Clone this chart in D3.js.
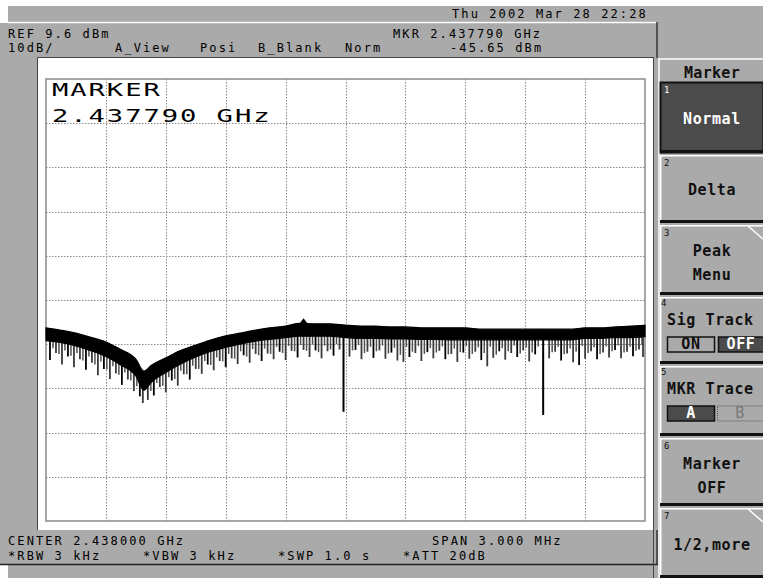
<!DOCTYPE html>
<html><head><meta charset="utf-8">
<script src="https://cdn.jsdelivr.net/npm/d3@7"></script>
<style>
html,body{margin:0;padding:0;background:#fff;}
svg{display:block;}
text{font-family:"DejaVu Sans Mono","Liberation Mono",monospace;}
</style></head><body>
<svg id="c" width="763" height="578"></svg>
<script>
// ---------- DATA ----------
const refLevel = 9.6;          // dBm at top of graticule
const dbPerDiv = 10;
const spanMHz = 3.0;           // centred on 2.438000 GHz, offsets in MHz
const traceFreq = [-1.50,-1.43,-1.35,-1.28,-1.20,-1.13,-1.05,-1.01,-0.97,-0.90,-0.83,-0.75,-0.68,-0.60,-0.53,-0.45,-0.38,-0.30,-0.23,-0.15,-0.08,0.00,0.08,0.15,0.23,0.30,0.38,0.45,0.53,0.60,0.68,0.75,0.83,0.90,0.98,1.05,1.13,1.20,1.28,1.35,1.43,1.50];
const traceTop = [-46.7,-47.2,-47.9,-48.8,-49.9,-51.5,-53.8,-56.5,-55.1,-53.5,-51.9,-50.6,-49.5,-48.5,-47.9,-47.2,-46.7,-46.3,-45.7,-45.8,-45.8,-46.1,-46.3,-46.3,-46.5,-46.5,-46.7,-46.7,-46.7,-46.7,-47.0,-47.0,-47.0,-47.0,-47.0,-47.0,-47.0,-46.7,-46.7,-46.5,-46.3,-46.1];
const traceBottom = [-49.6,-50.0,-50.8,-51.8,-53.2,-55.0,-57.6,-60.8,-58.9,-56.8,-55.0,-53.3,-52.1,-51.1,-50.4,-49.7,-49.3,-48.9,-48.6,-48.6,-48.6,-48.9,-49.1,-49.1,-49.2,-49.2,-49.3,-49.3,-49.4,-49.4,-49.4,-49.4,-49.4,-49.4,-49.4,-49.4,-49.4,-49.1,-49.1,-48.9,-48.9,-48.7];
const spikeFreq = [-1.48,-1.45,-1.42,-1.39,-1.36,-1.33,-1.30,-1.27,-1.24,-1.21,-1.18,-1.15,-1.12,-1.09,-1.06,-1.03,-1.015,-0.99,-0.96,-0.93,-0.90,-0.87,-0.84,-0.81,-0.78,-0.75,-0.72,-0.69,-0.66,-0.63,-0.60,-0.57,-0.54,-0.51,-0.48,-0.45,-0.42,-0.39,-0.36,-0.33,-0.30,-0.27,-0.24,-0.21,-0.18,-0.15,-0.12,-0.09,-0.06,-0.03,0.02,0.05,0.08,0.11,0.14,0.17,0.20,0.23,0.26,0.29,0.32,0.35,0.38,0.41,0.44,0.47,0.50,0.53,0.56,0.59,0.62,0.65,0.68,0.71,0.74,0.77,0.80,0.83,0.86,0.89,0.92,0.95,1.02,1.05,1.08,1.11,1.14,1.17,1.20,1.23,1.26,1.29,1.32,1.35,1.38,1.41,1.44,1.47,1.49];
const spikeLevel = [-54.0,-52.4,-55.0,-53.2,-55.6,-53.8,-56.2,-54.6,-57.4,-56.0,-58.3,-57.0,-59.6,-58.4,-61.0,-62.2,-63.7,-63.0,-62.0,-60.1,-61.3,-58.6,-59.8,-57.2,-58.4,-56.0,-57.1,-55.0,-56.3,-54.2,-55.6,-53.6,-54.9,-52.9,-54.6,-52.6,-54.2,-52.5,-53.8,-52.1,-54.0,-51.9,-53.4,-51.7,-53.3,-51.8,-53.6,-52.0,-53.0,-51.6,-53.2,-51.7,-53.8,-52.1,-53.5,-51.8,-53.7,-52.3,-54.1,-54.4,-53.3,-52.4,-54.2,-52.2,-53.6,-51.9,-53.8,-52.6,-54.4,-52.3,-53.7,-52.1,-54.0,-55.4,-53.5,-52.0,-53.9,-52.4,-53.3,-51.8,-54.3,-52.7,-53.6,-52.1,-54.1,-52.5,-54.5,-55.1,-53.7,-52.0,-53.8,-52.3,-53.4,-51.7,-53.6,-52.1,-53.1,-51.6,-53.3];
const fineSpikes = [[-1.465,-51.3],[-1.435,-52.6],[-1.405,-51.8],[-1.375,-53.0],[-1.345,-52.4],[-1.315,-54.1],[-1.285,-53.2],[-1.255,-55.0],[-1.225,-54.3],[-1.195,-56.1],[-1.165,-55.4],[-1.135,-57.3],[-1.105,-56.8],[-1.075,-58.6],[-1.045,-59.9],[-0.975,-61.0],[-0.945,-59.2],[-0.915,-59.8],[-0.885,-57.9],[-0.855,-58.3],[-0.825,-56.4],[-0.795,-57.2],[-0.765,-55.3],[-0.735,-56.0],[-0.705,-54.2],[-0.675,-55.1],[-0.645,-53.4],[-0.615,-54.3],[-0.585,-52.6],[-0.555,-53.7],[-0.525,-52.0],[-0.495,-53.2],[-0.465,-51.5],[-0.435,-52.9],[-0.405,-51.4],[-0.375,-52.6],[-0.345,-51.0],[-0.315,-52.4],[-0.285,-50.8],[-0.255,-52.0],[-0.225,-50.6],[-0.195,-51.9],[-0.165,-50.5],[-0.135,-52.2],[-0.105,-50.7],[-0.075,-51.6],[-0.045,-50.4],[0.035,-51.8],[0.065,-50.6],[0.095,-52.4],[0.125,-51.0],[0.155,-52.0],[0.185,-50.7],[0.215,-52.5],[0.245,-51.2],[0.275,-52.8],[0.305,-51.0],[0.335,-52.1],[0.365,-50.8],[0.395,-52.6],[0.425,-51.3],[0.455,-52.3],[0.485,-50.9],[0.515,-52.7],[0.545,-51.4],[0.575,-52.2],[0.605,-50.8],[0.635,-52.6],[0.665,-51.1],[0.695,-52.4],[0.725,-51.0],[0.755,-52.8],[0.785,-51.3],[0.815,-52.0],[0.845,-50.7],[0.875,-52.5],[0.905,-51.2],[0.935,-52.3],[0.965,-50.9],[1.035,-52.2],[1.065,-51.0],[1.095,-52.7],[1.125,-51.4],[1.155,-52.1],[1.185,-50.8],[1.215,-52.4],[1.245,-51.1],[1.275,-52.6],[1.305,-50.9],[1.335,-52.0],[1.365,-50.7],[1.395,-52.3],[1.425,-51.0],[1.455,-51.9],[1.485,-50.6]];
const notchFreq = [-0.01, 0.99];
const notchLevel = [-65.7, -66.4];
const markerFreq = -0.21;      // 2.437790 GHz
const markerLevel = -45.65;

// ---------- TEXT ----------
const statusLine = "Thu 2002 Mar 28 22:28";
const headerLeft = ["REF 9.6 dBm", "10dB/"];
const headerModes = ["A_View", "Posi", "B_Blank", "Norm"];
const headerMarker = ["MKR 2.437790 GHz", "-45.65 dBm"];
const footerTop = ["CENTER 2.438000 GHz", "SPAN 3.000 MHz"];
const footerBottom = ["*RBW 3 kHz", "*VBW 3 kHz", "*SWP 1.0 s", "*ATT 20dB"];
const markerReadout = ["MARKER", "2.437790 GHz"];
const softkeyTitle = "Marker";
const softkeyLabels = [["Normal"], ["Delta"], ["Peak", "Menu"], ["Sig Track"], ["MKR Trace"], ["Marker", "OFF"], ["1/2,more"]];
const toggleLabels = [["ON", "OFF"], ["A", "B"]];

// ---------- DRAW ----------
const svg = d3.select("#c");
const G = "#aaaaaa";
svg.append("rect").attr("width", 763).attr("height", 578).attr("fill", "#fff");
svg.append("rect").attr("x", 8).attr("y", 6).attr("width", 755).attr("height", 572).attr("fill", G);
svg.append("rect").attr("x", 0).attr("y", 23).attr("width", 8).attr("height", 542).attr("fill", G);
svg.append("line").attr("x1", 8).attr("x2", 657).attr("y1", 22.5).attr("y2", 22.5).attr("stroke", "#fff").attr("stroke-width", 1.5);
svg.append("line").attr("x1", 657).attr("x2", 657).attr("y1", 22).attr("y2", 58).attr("stroke", "#333").attr("stroke-width", 1.5);
svg.append("line").attr("x1", 0).attr("x2", 658).attr("y1", 564.5).attr("y2", 564.5).attr("stroke", "#222").attr("stroke-width", 1.5);
svg.append("line").attr("x1", 657).attr("x2", 657).attr("y1", 530).attr("y2", 565).attr("stroke", "#333").attr("stroke-width", 1.5);

// plot frame
svg.append("rect").attr("x", 38).attr("y", 57).attr("width", 615).attr("height", 473).attr("fill", "#fff");
svg.append("path").attr("d", "M37.5,530V57.5H653.5V530").attr("fill", "none").attr("stroke", "#444").attr("stroke-width", 1);

const x = d3.scaleLinear().domain([-spanMHz / 2, spanMHz / 2]).range([46, 645]);
const y = d3.scaleLinear().domain([refLevel - 10 * dbPerDiv, refLevel]).range([521, 79]);

const grid = svg.append("g");
const xDivs = d3.range(1, 10).map(i => -spanMHz / 2 + i * spanMHz / 10);
const yDivs = d3.range(1, 10).map(i => refLevel - i * dbPerDiv);
grid.selectAll("line.v").data(xDivs).join("line").attr("class", "v")
  .attr("x1", d => Math.round(x(d)) + 0.5).attr("x2", d => Math.round(x(d)) + 0.5).attr("y1", 79).attr("y2", 521)
  .attr("stroke", "#8a8a8a").attr("stroke-dasharray", "1.5,1.5");
grid.selectAll("line.h").data(yDivs).join("line").attr("class", "h")
  .attr("y1", d => Math.round(y(d)) + 0.5).attr("y2", d => Math.round(y(d)) + 0.5).attr("x1", 46).attr("x2", 645)
  .attr("stroke", "#8a8a8a").attr("stroke-dasharray", "1.5,1.5");
svg.append("rect").attr("x", 46).attr("y", 79).attr("width", 599).attr("height", 442)
  .attr("fill", "none").attr("stroke", "#8a8a8a").attr("stroke-width", 1.5);

// marker readout inside the graticule
const big = svg.append("g").attr("fill", "#000");
markerReadout.forEach((t, i) => {
  big.append("text").attr("transform", `translate(52,${96 + i * 26}) scale(1.6,1)`)
    .attr("font-size", 17).attr("letter-spacing", 1.2).text(t);
});

// trace
const pts = traceFreq.map((f, i) => ({f, hi: traceTop[i], lo: traceBottom[i]}));
const bottomAt = d3.scaleLinear().domain(traceFreq).range(traceBottom);
const topAt = d3.scaleLinear().domain(traceFreq).range(traceTop);
svg.append("g").selectAll("line").data(fineSpikes).join("line")
  .attr("x1", d => x(d[0])).attr("x2", d => x(d[0]))
  .attr("y1", d => y(bottomAt(d[0])) - 2).attr("y2", d => y(d[1]))
  .attr("stroke", "#505050").attr("stroke-width", 1.5);
svg.append("g").selectAll("line").data(spikeFreq.map((f, i) => ({f, v: spikeLevel[i]}))).join("line")
  .attr("x1", d => x(d.f)).attr("x2", d => x(d.f))
  .attr("y1", d => y(bottomAt(d.f)) - 2).attr("y2", d => y(d.v))
  .attr("stroke", (d, i) => i % 3 === 0 ? "#000" : "#3a3a3a").attr("stroke-width", 1.8);
svg.append("g").selectAll("line").data(notchFreq.map((f, i) => ({f, v: notchLevel[i]}))).join("line")
  .attr("x1", d => x(d.f)).attr("x2", d => x(d.f))
  .attr("y1", d => y(topAt(d.f))).attr("y2", d => y(d.v))
  .attr("stroke", "#000").attr("stroke-width", 2);
svg.append("path").datum(pts)
  .attr("d", d3.area().x(d => x(d.f)).y0(d => y(d.lo)).y1(d => y(d.hi)).curve(d3.curveMonotoneX))
  .attr("fill", "#000").attr("stroke", "#000").attr("stroke-width", 1.2);
const mx = x(markerFreq), my = y(markerLevel);
svg.append("path").attr("d", `M${mx},${my - 5}L${mx - 4.5},${my + 1}L${mx + 4.5},${my + 1}Z`).attr("fill", "#000");

// header / footer text
const hdr = svg.append("g").attr("font-size", 12).attr("letter-spacing", 2.1).attr("fill", "#000");
hdr.append("text").attr("x", 452).attr("y", 17.5).text(statusLine);
hdr.append("text").attr("x", 8).attr("y", 37.5).text(headerLeft[0]);
hdr.append("text").attr("x", 8).attr("y", 51.5).text(headerLeft[1]);
[115, 200, 258, 345].forEach((px, i) => hdr.append("text").attr("x", px).attr("y", 51.5).text(headerModes[i]));
hdr.append("text").attr("x", 393).attr("y", 37.5).text(headerMarker[0]);
hdr.append("text").attr("x", 450).attr("y", 51.5).text(headerMarker[1]);
hdr.append("text").attr("x", 8).attr("y", 545).text(footerTop[0]);
hdr.append("text").attr("x", 432).attr("y", 545).text(footerTop[1]);
[8, 143, 278, 403].forEach((px, i) => hdr.append("text").attr("x", px).attr("y", 559.5).text(footerBottom[i]));

// softkey panel
const sk = svg.append("g");
sk.append("line").attr("x1", 653.5).attr("x2", 653.5).attr("y1", 57).attr("y2", 578).attr("stroke", "#444");
sk.append("line").attr("x1", 659).attr("x2", 659).attr("y1", 58).attr("y2", 578).attr("stroke", "#fff").attr("stroke-width", 1.5);
sk.append("line").attr("x1", 659).attr("x2", 763).attr("y1", 59).attr("y2", 59).attr("stroke", "#fff").attr("stroke-width", 1.5);
sk.append("text").attr("x", 712).attr("y", 78).attr("text-anchor", "middle").attr("font-size", 15)
  .attr("font-weight", "bold").attr("letter-spacing", 0.3).attr("fill", "#111").text(softkeyTitle);

const btnY = [[82, 153], [155, 223], [225, 295], [297, 364], [366, 436], [438, 506], [508, 578]];
const fold = [false, false, true, false, false, false, true];
btnY.forEach(([y0, y1], i) => {
  const g = sk.append("g");
  const dark = i === 0;
  g.append("rect").attr("x", 660).attr("y", y0).attr("width", 103).attr("height", y1 - y0)
    .attr("fill", dark ? "#4b4b4b" : G);
  if (dark) {
    g.append("rect").attr("x", 660.5).attr("y", y0 + 0.5).attr("width", 103).attr("height", y1 - y0 - 1)
      .attr("fill", "none").attr("stroke", "#111").attr("stroke-width", 2);
  } else {
    g.append("line").attr("x1", 660).attr("x2", 763).attr("y1", y0 + 0.75).attr("y2", y0 + 0.75).attr("stroke", "#fff").attr("stroke-width", 1.5);
    g.append("line").attr("x1", 660.75).attr("x2", 660.75).attr("y1", y0).attr("y2", y1).attr("stroke", "#fff").attr("stroke-width", 1.5);
  }
  g.append("rect").attr("x", 660).attr("y", y1 - 3).attr("width", 103).attr("height", 3).attr("fill", "#111");
  if (fold[i]) {
    g.append("path").attr("d", `M748,${y0 + 1}L763,${y0 + 14}`).attr("stroke", "#fff").attr("stroke-width", 1.5);
  }
  const fc = dark ? "#fff" : "#111";
  const num = g.append("text").attr("font-size", 9).attr("fill", fc).text(String(i + 1));
  const lab = softkeyLabels[i];
  const tf = t => t.attr("font-size", 15).attr("font-weight", "bold").attr("letter-spacing", 0.6).attr("fill", fc);
  if (i === 3 || i === 4) {
    num.attr("x", 661).attr("y", y0 + 9);
    tf(g.append("text").attr("x", 667).attr("y", y0 + 28).text(lab[0]));
    const ty = y0 + 40;
    const pair = toggleLabels[i - 3];
    const onActive = i === 4;
    g.append("rect").attr("x", 667.5).attr("y", ty).attr("width", 47).attr("height", 15)
      .attr("fill", onActive ? "#4b4b4b" : G).attr("stroke", "#111").attr("stroke-width", 1.5);
    tf(g.append("text").attr("x", 691).attr("y", ty + 12).attr("text-anchor", "middle")
      .attr("font-size", 13).text(pair[0])).attr("fill", onActive ? "#fff" : "#111");
    if (i === 3) {
      g.append("rect").attr("x", 718.5).attr("y", ty).attr("width", 46).attr("height", 15)
        .attr("fill", "#4b4b4b").attr("stroke", "#111").attr("stroke-width", 1.5);
      tf(g.append("text").attr("x", 741).attr("y", ty + 12).attr("text-anchor", "middle")
        .attr("font-size", 13).text(pair[1])).attr("fill", "#fff");
    } else {
      g.append("rect").attr("x", 717.5).attr("y", ty).attr("width", 47).attr("height", 15)
        .attr("fill", G).attr("stroke", "#555").attr("stroke-width", 1).attr("stroke-dasharray", "1,1");
      tf(g.append("text").attr("x", 740).attr("y", ty + 12).attr("text-anchor", "middle")
        .attr("font-size", 13).text(pair[1])).attr("fill", "#777").attr("font-weight", "normal");
    }
  } else {
    num.attr("x", 664).attr("y", y0 + 11);
    if (lab.length === 1) {
      const by = (i === 0 || i === 6) ? y0 + 42 : y0 + 40;
      tf(g.append("text").attr("x", 712).attr("y", by).attr("text-anchor", "middle").text(lab[0]));
    } else {
      tf(g.append("text").attr("x", 712).attr("y", y0 + 31).attr("text-anchor", "middle").text(lab[0]));
      tf(g.append("text").attr("x", 712).attr("y", y0 + 55).attr("text-anchor", "middle").text(lab[1]));
    }
  }
});
</script>
</body></html>
